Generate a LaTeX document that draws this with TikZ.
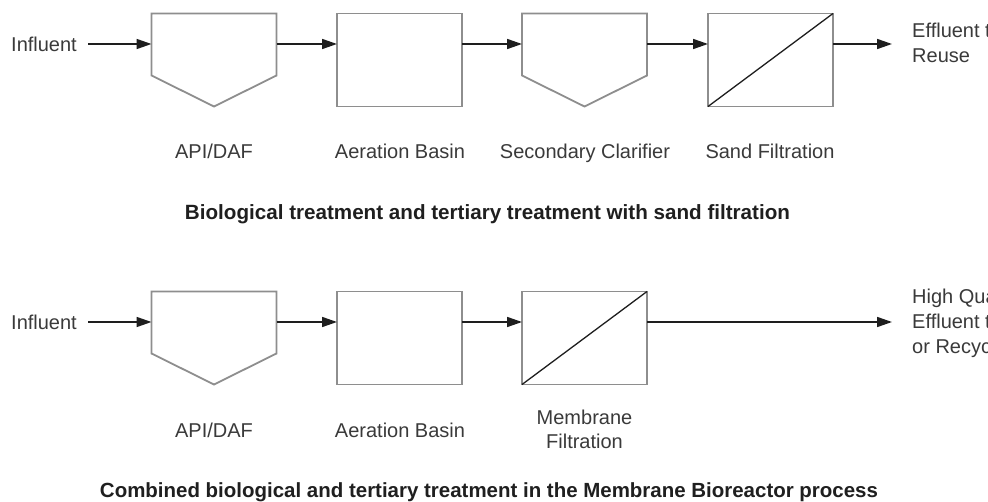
\documentclass[tikz,border=0pt]{standalone}
\usepackage{fontspec}
\setmainfont{Liberation Sans}
\usetikzlibrary{arrows.meta,calc}
\definecolor{outline}{HTML}{8E8E8E}
\definecolor{labeltext}{HTML}{3A3A3A}
\definecolor{linecol}{HTML}{1E1E1E}
\begin{document}
\begin{tikzpicture}[x=1pt,y=-1pt,
  unit/.style={minimum width=125pt,minimum height=93pt,inner sep=0pt,outer sep=0pt},
  tank/.style={unit,draw=outline,line width=1.8pt},
  shell/.style={draw=outline,line width=1.8pt,line join=miter},
  diag/.style={draw=linecol,line width=1.3pt},
  flow/.style={draw=linecol,line width=1.6pt,-{Triangle[length=15pt,width=10pt]}},
  caption/.style={font=\bfseries\fontsize{18}{22}\selectfont,text=black!88,inner sep=0pt,anchor=base},
  tag/.style={font=\fontsize{20}{24}\selectfont,text=labeltext,inner sep=0pt,anchor=base},
  stream/.style={font=\fontsize{20}{25}\selectfont,text=labeltext,inner sep=0pt,align=left,anchor=west}]
\useasboundingbox (0,0) rectangle (988,502);
\clip (0,0) rectangle (988,502);
\fill[white] (0,0) rectangle (988,502);

% ---------- conventional train: API/DAF, aeration, clarifier, sand filter ----------
\node[stream] (in1) at (11,44) {Influent};
\node[unit] (api1) at (214,60) {};
\draw[shell] (api1.north west) -- (api1.north east) -- ($(api1.north east)+(0,62)$)
  -- (api1.south) -- ($(api1.north west)+(0,62)$) -- cycle;
\node[tank] (aer1) at (399.5,60) {};
\node[unit] (clar1) at (584.5,60) {};
\draw[shell] (clar1.north west) -- (clar1.north east) -- ($(clar1.north east)+(0,62)$)
  -- (clar1.south) -- ($(clar1.north west)+(0,62)$) -- cycle;
\node[tank] (sand1) at (770.5,60) {};
\draw[diag] (sand1.south west) -- (sand1.north east);
\coordinate (out1) at (892,44);
\node[stream] (eff1) at (912,43) {Effluent to\\Reuse};

\draw[flow,shorten <=11pt] (in1.east) -- (in1.east -| api1.west);
\draw[flow] (api1.east |- in1.east) -- (aer1.west |- in1.east);
\draw[flow] (aer1.east |- in1.east) -- (clar1.west |- in1.east);
\draw[flow] (clar1.east |- in1.east) -- (sand1.west |- in1.east);
\draw[flow] (sand1.east |- in1.east) -- (out1);

\node[tag] (t-api1) at (214,159) {API/DAF};
\node[tag] (t-aer1) at (400,159) {Aeration Basin};
\node[tag] (t-clar1) at (585,159) {Secondary Clarifier};
\node[tag] (t-sand1) at (770,159) {Sand Filtration};

\node[caption] (cap1) at (487.5,220)
  {\resizebox{605pt}{!}{Biological treatment and tertiary treatment with sand filtration}};

% ---------- membrane bioreactor train ----------
\node[stream] (in2) at (11,322) {Influent};
\node[unit] (api2) at (214,338) {};
\draw[shell] (api2.north west) -- (api2.north east) -- ($(api2.north east)+(0,62)$)
  -- (api2.south) -- ($(api2.north west)+(0,62)$) -- cycle;
\node[tank] (aer2) at (399.5,338) {};
\node[tank] (mem2) at (584.5,338) {};
\draw[diag] (mem2.south west) -- (mem2.north east);
\coordinate (out2) at (892,322);
\node[stream] (eff2) at (912,323) {High Quality\\Effluent to Reuse\\or Recycle};

\draw[flow,shorten <=11pt] (in2.east) -- (in2.east -| api2.west);
\draw[flow] (api2.east |- in2.east) -- (aer2.west |- in2.east);
\draw[flow] (aer2.east |- in2.east) -- (mem2.west |- in2.east);
\draw[flow] (mem2.east |- in2.east) -- (out2);

\node[tag] (t-api2) at (214,437) {API/DAF};
\node[tag] (t-aer2) at (400,437) {Aeration Basin};
\node[tag,anchor=north,align=center] (t-mem2) at (584.5,409.5) {Membrane\\Filtration};

\node[caption] (cap2) at (489,497)
  {\resizebox{778pt}{!}{Combined biological and tertiary treatment in the Membrane Bioreactor process}};
\end{tikzpicture}
\end{document}
